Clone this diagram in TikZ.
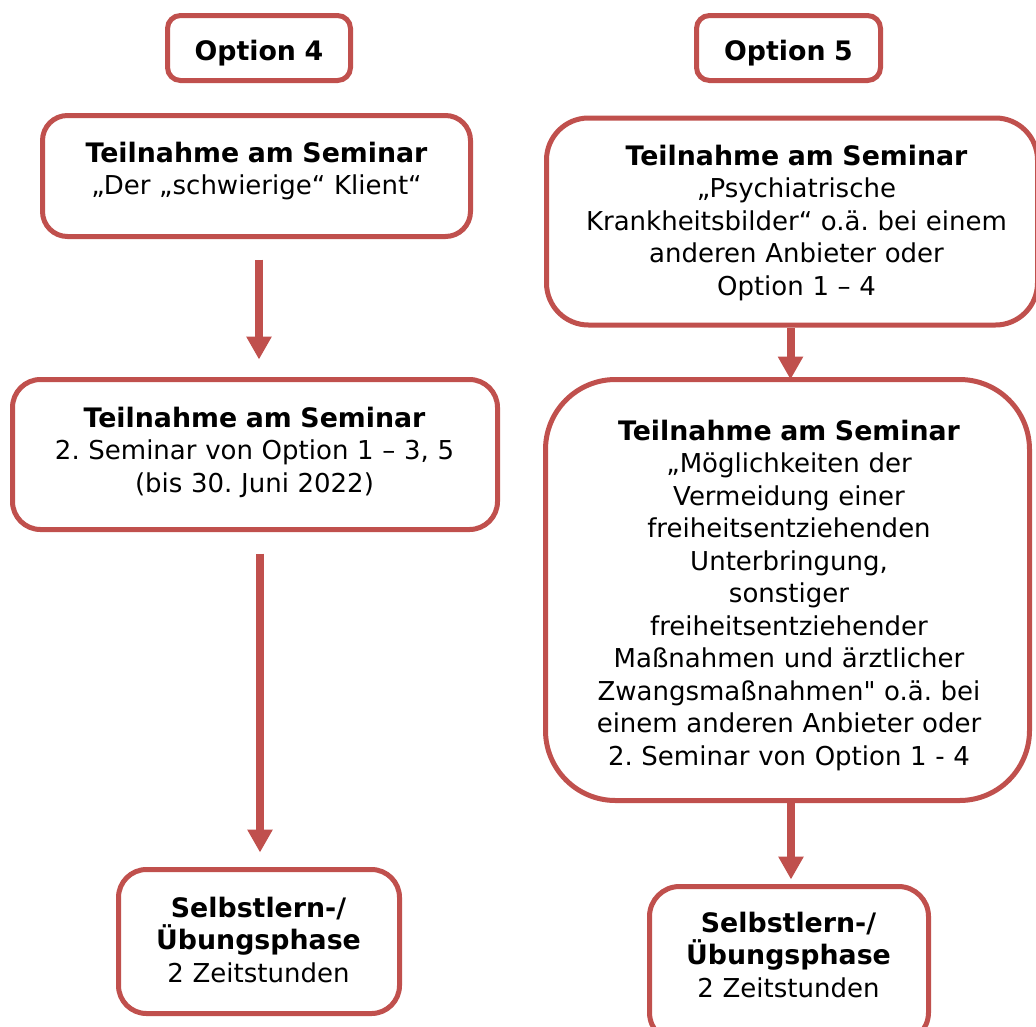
\documentclass[tikz,border=0pt]{standalone}
\usepackage{fontspec}
\setmainfont{DejaVu Sans}
\newfontfamily\qfont{DejaVu Sans}[Ligatures=ResetAll]
\usetikzlibrary{arrows.meta,calc}
\definecolor{boxred}{RGB}{192,80,77}
\newcommand{\bx}[1]{{\fontsize{26.8}{32.5}\selectfont\bfseries #1}}
\newcommand{\sq}{{\qfont\symbol{34}}}
\frenchspacing
\begin{document}
\begin{tikzpicture}[x=1pt,y=-1pt,
  box/.style={draw=boxred, line width=5pt, rounded corners=#1, inner sep=0pt, fill=white},
  box/.default=25pt,
  txt/.style={anchor=base, align=center, text width=520pt, inner sep=0pt,
              font=\fontsize{26}{32.5}\selectfont\frenchspacing},
  arr/.style={draw=boxred, line width=8pt, -{Triangle[width=24pt,length=23pt]}}]
\useasboundingbox (0,0) rectangle (1036,1026);
\fill[white] (0,0) rectangle (1036,1026);
% boxes
\node[box=13pt, minimum width=183pt, minimum height=65pt] (o4) at (259,48) {};
\node[box=13pt, minimum width=184pt, minimum height=65pt] (o5) at (788.5,48) {};
\node[box=25pt, minimum width=428pt, minimum height=121pt] (l1) at (256.5,176) {};
\node[box=28pt, minimum width=485pt, minimum height=150pt] (l2) at (255,454.5) {};
\node[box=28pt, minimum width=281pt, minimum height=144pt] (l3) at (259,941.5) {};
\node[box=42pt, minimum width=491pt, minimum height=207pt] (r1) at (792,221.5) {};
\node[box=70pt, minimum width=484pt, minimum height=421pt] (r2) at (787.5,590) {};
\node[box=30pt, minimum width=279pt, minimum height=156pt] (r3) at (789,964.5) {};
% texts
\node[txt] (o4t) at (259,60) {\bx{Option 4}};
\node[txt] (o5t) at (788.5,60) {\bx{Option 5}};
\node[txt] (l1t) at (256.5,162) {\bx{Teilnahme am Seminar}\\„Der „schwierige“ Klient“};
\node[txt] (l2t) at (254.5,427) {\bx{Teilnahme am Seminar}\\2. Seminar von Option 1 – 3, 5\\(bis 30. Juni 2022)};
\node[txt] (l3t) at (258.5,917) {\bx{Selbstlern-/}\\\bx{Übungsphase}\\2 Zeitstunden};
\node[txt] (r1t) at (796.5,165) {\bx{Teilnahme am Seminar}\\„Psychiatrische\\Krankheitsbilder“ o.ä. bei einem\\anderen Anbieter oder\\Option 1 – 4};
\node[txt] (r2t) at (789,440) {\bx{Teilnahme am Seminar}\\„Möglichkeiten der\\Vermeidung einer\\freiheitsentziehenden\\Unterbringung,\\sonstiger\\freiheitsentziehender\\Maßnahmen und ärztlicher\\Zwangsmaßnahmen\sq{} o.ä. bei\\einem anderen Anbieter oder\\2. Seminar von Option 1 - 4};
\node[txt] (r3t) at (788.5,932) {\bx{Selbstlern-/}\\\bx{Übungsphase}\\2 Zeitstunden};
% arrows
\draw[arr] ($(l1.south)+(2.5,20.5)$) -- ($(l1.south |- l2.north)+(2.5,-17.5)$);
\draw[arr] ($(l2.south)+(5,21.5)$) -- ($(l2.south |- l3.north)+(5,-14.5)$);
\draw[arr] ($(r1.south)+(-1.5,0)$) -- ($(r1.south |- r2.north)+(-1.5,2.5)$);
\draw[arr] ($(r2.south)+(3.5,0)$) -- ($(r2.south |- r3.north)+(3.5,-4.5)$);
\end{tikzpicture}
\end{document}
